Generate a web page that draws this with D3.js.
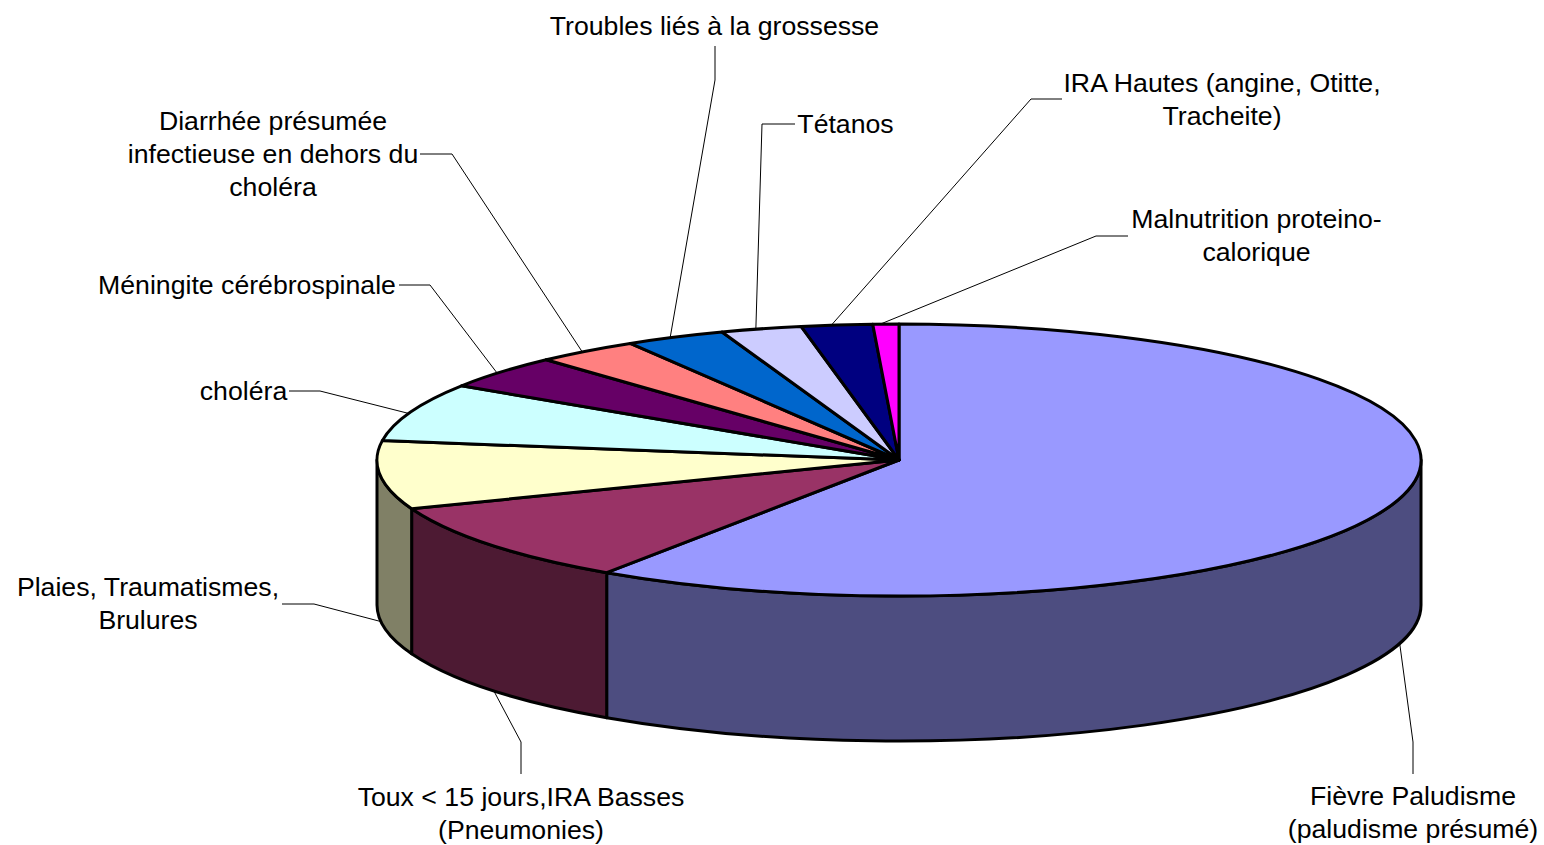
<!DOCTYPE html>
<html>
<head>
<meta charset="utf-8">
<script src="https://cdn.jsdelivr.net/npm/d3@7"></script>
<style>
html, body { margin: 0; padding: 0; background: #fff; }
svg { display: block; }
text { font-family: "Liberation Sans", Arial, sans-serif; font-size: 26.67px; fill: #000; text-anchor: middle; }
</style>
</head>
<body>
<svg id="mainsvg" width="1544" height="845"></svg>
<script>
// slices go clockwise from 12 o'clock
var categories = ['Fièvre Paludisme (paludisme présumé)', 'Toux < 15 jours,IRA Basses (Pneumonies)', 'Plaies, Traumatismes, Brulures',
	'choléra', 'Méningite cérébrospinale', 'Diarrhée présumée infectieuse en dehors du choléra', 'Troubles liés à la grossesse',
	'Tétanos', 'IRA Hautes (angine, Otitte, Tracheite)', 'Malnutrition proteino-calorique'];
var values = [59.4, 9.7, 8.1, 6.9, 4.0, 3.2, 3.1, 2.5, 2.2, 0.8];
var colors = ['#9999ff', '#993366', '#ffffcc', '#ccffff', '#660066', '#ff8080', '#0066cc', '#ccccff', '#000080', '#ff00ff'];
var sideColors = ['#4d4d80', '#4d1a33', '#808066', '#668080', '#330033', '#804040', '#003366', '#666680', '#000040', '#800080'];

// label placement, same order as categories
var labelLines = [['Fièvre Paludisme', '(paludisme présumé)'], ['Toux < 15 jours,IRA Basses', '(Pneumonies)'], ['Plaies, Traumatismes,', 'Brulures'],
	['choléra'], ['Méningite cérébrospinale'], ['Diarrhée présumée', 'infectieuse en dehors du', 'choléra'], ['Troubles liés à la grossesse'],
	['Tétanos'], ['IRA Hautes (angine, Otitte,', 'Tracheite)'], ['Malnutrition proteino-', 'calorique']];
var labelPos = [[1413, 805], [521, 806], [148, 596], [243.5, 400], [247, 294], [273, 130], [714.5, 35], [845.5, 133], [1222, 92], [1256.5, 228]];
var elbows = [[[1413, 742], [1413, 774]], [[521, 742], [521, 774]], [[314, 604], [282, 604]], [[320, 391], [289, 391]], [[430, 285], [399, 285]],
	[[452, 154], [420, 154]], [[715, 80], [715, 46]], [[762, 124], [795, 124]], [[1031, 99], [1062, 99]], [[1096, 236], [1128, 236]]];

var cx = 899, cy = 460, rx = 522, ry = 136, depth = 145;
var leaderNudge = -0.6 * Math.PI / 180; // leaders sit a bit before the true slice middle
var svg = d3.select('#mainsvg');

var pie = d3.pie().sort(null).startAngle(0).endAngle(2 * Math.PI);
var arcs = pie(values);

function px(a) { return cx + rx * Math.sin(a); }
function py(a) { return cy - ry * Math.cos(a); }

// side walls, only the front half of the rim shows
var wallLayer = svg.append('g');
arcs.forEach(function(d, i) {
	var a0 = Math.max(d.startAngle, Math.PI / 2);
	var a1 = Math.min(d.endAngle, 3 * Math.PI / 2);
	if (a0 >= a1) return;
	var p = 'M' + px(a0) + ',' + py(a0)
		+ 'A' + rx + ',' + ry + ' 0 0 1 ' + px(a1) + ',' + py(a1)
		+ 'L' + px(a1) + ',' + (py(a1) + depth)
		+ 'A' + rx + ',' + ry + ' 0 0 0 ' + px(a0) + ',' + (py(a0) + depth)
		+ 'Z';
	wallLayer.append('path')
		.attr('d', p)
		.attr('fill', sideColors[i])
		.attr('stroke', '#000')
		.attr('stroke-width', 3)
		.attr('stroke-linejoin', 'round');
});

// top face, a flat d3.arc squashed to an ellipse
var arc = d3.arc().innerRadius(0).outerRadius(rx);
svg.append('g')
	.attr('transform', 'translate(' + cx + ',' + cy + ') scale(1,' + (ry / rx) + ')')
	.selectAll('path')
	.data(arcs)
	.enter()
	.append('path')
	.attr('d', arc)
	.attr('fill', function(d, i) { return colors[i]; })
	.attr('stroke', '#000')
	.attr('stroke-width', 3)
	.attr('stroke-linejoin', 'round')
	.attr('vector-effect', 'non-scaling-stroke');

// leaders start at the middle of each slice rim
var line = d3.line();
svg.append('g')
	.selectAll('path')
	.data(arcs)
	.enter()
	.append('path')
	.attr('d', function(d, i) {
		var mid = (d.startAngle + d.endAngle) / 2 + leaderNudge;
		var front = mid > Math.PI / 2 && mid < 3 * Math.PI / 2;
		return line([[px(mid), py(mid) + (front ? depth : 0)]].concat(elbows[i]));
	})
	.attr('fill', 'none')
	.attr('stroke', '#000')
	.attr('stroke-width', 1);

var labels = svg.append('g')
	.selectAll('text')
	.data(categories)
	.enter()
	.append('text')
	.attr('aria-label', function(d) { return d; })
	.attr('transform', function(d, i) { return 'translate(' + labelPos[i][0] + ',' + labelPos[i][1] + ')'; });
labels.selectAll('tspan')
	.data(function(d, i) { return labelLines[i]; })
	.enter()
	.append('tspan')
	.attr('x', 0)
	.attr('y', function(d, i) { return i * 33; })
	.text(function(d) { return d; });
</script>
</body>
</html>
